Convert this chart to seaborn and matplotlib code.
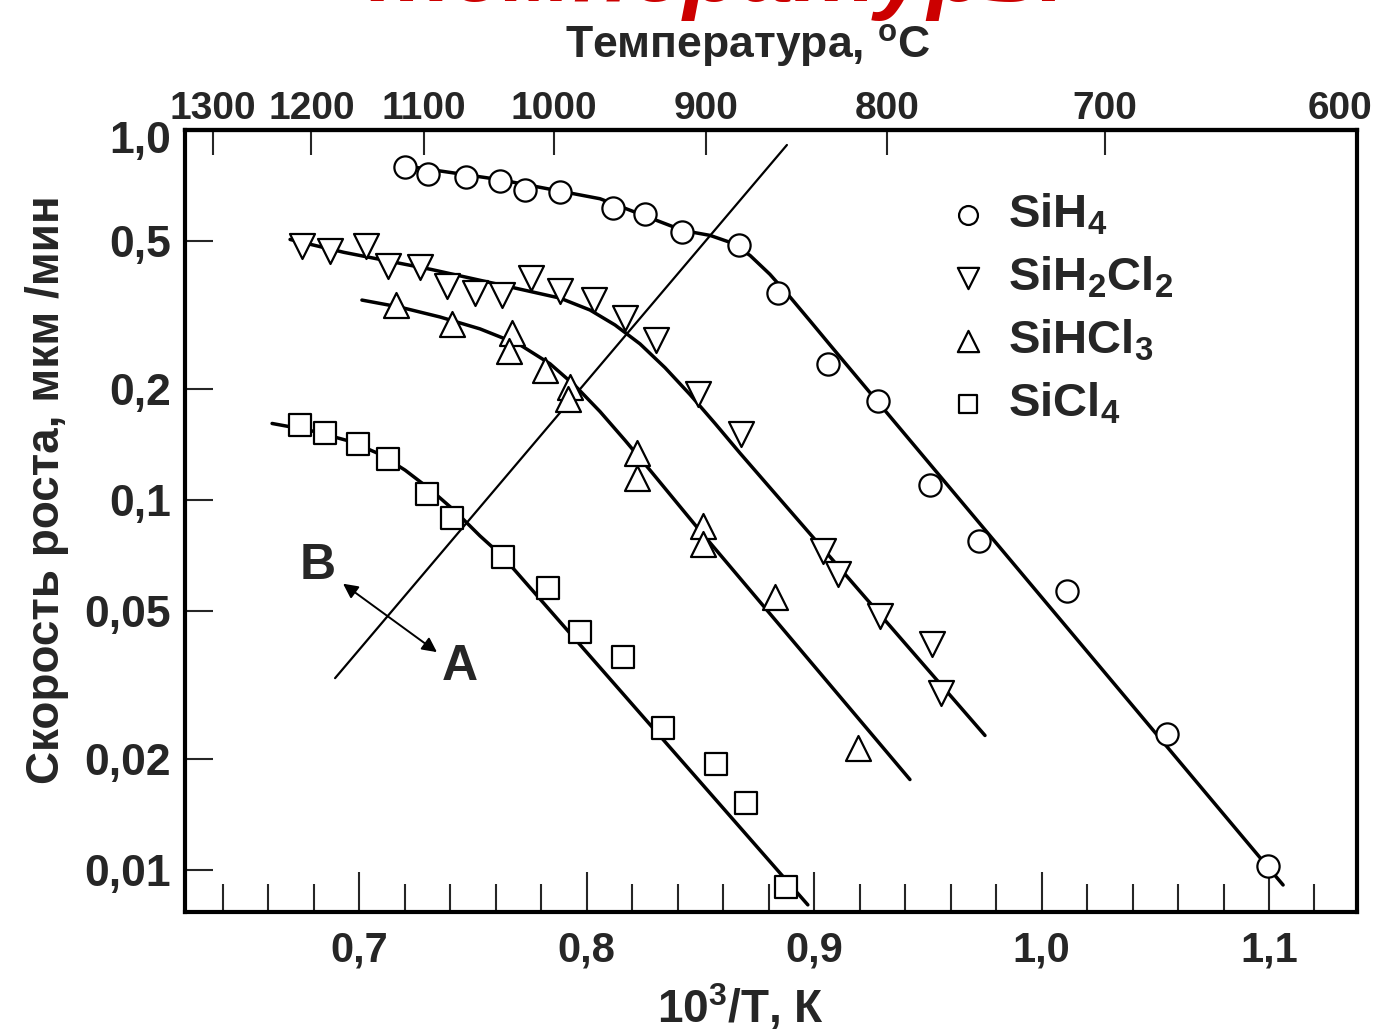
import numpy as np
import pandas as pd
import matplotlib
matplotlib.use("Agg")
import matplotlib.pyplot as plt
import seaborn as sns
from matplotlib.ticker import FixedLocator, FixedFormatter, NullLocator

# ---------------- data (x = 10^3/T, y = growth rate, um/min) ----------------
sih4_x = [0.720, 0.730, 0.747, 0.762, 0.773, 0.788, 0.8115, 0.8256, 0.842, 0.867,
          0.884, 0.906, 0.928, 0.951, 0.9725, 1.011, 1.055, 1.0995]
sih4_y = [0.795, 0.762, 0.748, 0.729, 0.690, 0.678, 0.617, 0.594, 0.529, 0.488,
          0.362, 0.233, 0.185, 0.110, 0.0776, 0.0566, 0.0233, 0.01026]
sih4_fit_x = [0.7201, 0.7618, 0.8058, 0.8423, 0.8542, 0.8630, 0.8718, 0.8805, 0.8894,
              0.8982, 0.9069, 0.9201, 1.0995, 1.1062]
sih4_fit_y = [0.800, 0.734, 0.652, 0.535, 0.519, 0.497, 0.458, 0.4075, 0.3535,
              0.3047, 0.2627, 0.2102, 0.01019, 0.00911]

sih2cl2_x = [0.6748, 0.6871, 0.7029, 0.7126, 0.7266, 0.7385, 0.7508, 0.7627, 0.7755, 0.7882,
             0.8032, 0.8168, 0.8304, 0.8489, 0.8678, 0.9038, 0.9104, 0.9289, 0.9518, 0.9557]
sih2cl2_y = [0.487, 0.470, 0.487, 0.428, 0.426, 0.378, 0.362, 0.358, 0.397, 0.367,
             0.347, 0.310, 0.271, 0.193, 0.151, 0.0729, 0.0632, 0.0485, 0.0407, 0.0301]
sih2cl2_fit_x = [0.6695, 0.6932, 0.7315, 0.7684, 0.7882, 0.8014, 0.8124, 0.8234, 0.8344,
                 0.8454, 0.8564, 0.8674, 0.9751]
sih2cl2_fit_y = [0.506, 0.467, 0.420, 0.374, 0.3513, 0.3262, 0.2972, 0.2642, 0.2278,
                 0.1927, 0.1610, 0.1338, 0.0231]

sihcl3_x = [0.7161, 0.7407, 0.7671, 0.7660, 0.7816, 0.7926, 0.7917, 0.8221, 0.8221,
            0.8511, 0.8511, 0.8827, 0.9192]
sihcl3_y = [0.336, 0.299, 0.283, 0.253, 0.225, 0.202, 0.187, 0.134, 0.1145,
            0.0851, 0.0762, 0.0548, 0.0214]
sihcl3_fit_x = [0.7011, 0.7179, 0.7354, 0.7530, 0.7706, 0.7838, 0.7948, 0.8058, 0.8168,
                0.8278, 0.8498, 0.9421]
sihcl3_fit_y = [0.347, 0.332, 0.3124, 0.2901, 0.2627, 0.2335, 0.2038, 0.1734, 0.1450,
                0.1204, 0.0825, 0.01756]

sicl4_x = [0.6739, 0.6849, 0.6993, 0.7125, 0.7297, 0.7407, 0.7631, 0.7829, 0.7970,
           0.8159, 0.8335, 0.8568, 0.8700, 0.8875]
sicl4_y = [0.159, 0.152, 0.142, 0.129, 0.1037, 0.0895, 0.0703, 0.0580, 0.0441,
           0.0376, 0.0242, 0.0194, 0.0152, 0.0090]
sicl4_fit_x = [0.6616, 0.6783, 0.6959, 0.7091, 0.7201, 0.7310, 0.7420, 0.7530, 0.7631,
               0.8972]
sicl4_fit_y = [0.161, 0.1542, 0.1441, 0.1329, 0.1204, 0.1070, 0.0934, 0.0800, 0.0703,
               0.00805]

# boundary line between regions A and B, arrow and region labels
boundary_x = [0.6893, 0.888]
boundary_y = [0.0330, 0.911]
arrow_b = (0.6928, 0.0594)
arrow_a = (0.7341, 0.0388)
label_b = (0.6818, 0.0665)
label_a = (0.7442, 0.0353)

series_names = ["SiH$_4$", "SiH$_2$Cl$_2$", "SiHCl$_3$", "SiCl$_4$"]

y_ticks = [0.01, 0.02, 0.05, 0.1, 0.2, 0.5, 1.0]
y_tick_labels = ["0,01", "0,02", "0,05", "0,1", "0,2", "0,5", "1,0"]
x_ticks = [0.7, 0.8, 0.9, 1.0, 1.1]
x_tick_labels = ["0,7", "0,8", "0,9", "1,0", "1,1"]
x_minor = [0.64, 0.66, 0.68, 0.72, 0.74, 0.76, 0.78, 0.82, 0.84, 0.86, 0.88,
           0.92, 0.94, 0.96, 0.98, 1.02, 1.04, 1.06, 1.08, 1.12]
top_ticks_c = [1300, 1200, 1100, 1000, 900, 800, 700]
top_tick_labels = ["1300", "1200", "1100", "1000", "900", "800", "700"]

# ---------------- style ----------------
sns.set_theme(style="white")
plt.rcParams["font.family"] = ["Liberation Sans", "DejaVu Sans"]
plt.rcParams["font.weight"] = "bold"
plt.rcParams["mathtext.fontset"] = "custom"
plt.rcParams["mathtext.rm"] = "Liberation Sans:bold"
plt.rcParams["mathtext.it"] = "Liberation Sans:bold"
plt.rcParams["mathtext.bf"] = "Liberation Sans:bold"
plt.rcParams["mathtext.sf"] = "Liberation Sans:bold"
plt.rcParams["mathtext.default"] = "rm"

W, H = 1379, 1034
fig = plt.figure(figsize=(W / 100, H / 100), dpi=100)
fig.patch.set_facecolor("white")
L, R, T, B = 185, 1357, 130, 912
ax = fig.add_axes([L / W, 1 - B / H, (R - L) / W, (B - T) / H])
ax.set_facecolor("white")

markers = ["o", "v", "^", "s"]
msizes = [16, 18, 18, 15.5]
fits = [(sih4_fit_x, sih4_fit_y), (sih2cl2_fit_x, sih2cl2_fit_y),
        (sihcl3_fit_x, sihcl3_fit_y), (sicl4_fit_x, sicl4_fit_y)]
pts = [(sih4_x, sih4_y), (sih2cl2_x, sih2cl2_y), (sihcl3_x, sihcl3_y), (sicl4_x, sicl4_y)]

for (fx, fy) in fits:
    sns.lineplot(x=fx, y=fy, ax=ax, color="black", lw=2.5, sort=False,
                 estimator=None, legend=False, zorder=2)

for (px, py), m, ms, name in zip(pts, markers, msizes, series_names):
    sns.scatterplot(x=px, y=py, ax=ax, marker=m, s=ms ** 2, color="white",
                    edgecolor="black", linewidth=1.6, label=name, zorder=3)

sns.lineplot(x=boundary_x, y=boundary_y, ax=ax, color="black", lw=1.6,
             sort=False, estimator=None, legend=False, zorder=2)
ax.annotate("", xy=arrow_a, xytext=arrow_b,
            arrowprops=dict(arrowstyle="<|-|>", color="black", lw=1.4,
                            mutation_scale=22, shrinkA=0, shrinkB=0))
ax.text(*label_b, "B", fontsize=36, fontweight="bold", ha="center", va="center")
ax.text(*label_a, "A", fontsize=36, fontweight="bold", ha="center", va="center")

ax.set_yscale("log")
ax.set_xlim(0.6233, 1.1387)
ax.set_ylim(0.0077, 1.0)

# the top "1,0" label sits a little below the frame corner, as in the original
y_labels_drawn = [lab if v < 1.0 else "" for v, lab in zip(y_ticks, y_tick_labels)]
ax.yaxis.set_major_locator(FixedLocator(y_ticks))
ax.yaxis.set_major_formatter(FixedFormatter(y_labels_drawn))
ax.yaxis.set_minor_locator(NullLocator())
ax.xaxis.set_major_locator(FixedLocator(x_ticks))
ax.xaxis.set_major_formatter(FixedFormatter(x_tick_labels))
ax.xaxis.set_minor_locator(FixedLocator(x_minor))
ax.annotate(y_tick_labels[-1], xy=(0, y_ticks[-1]), xycoords=("axes fraction", "data"),
            xytext=(-10, -8), textcoords="offset points", ha="right", va="center",
            fontsize=32, fontweight="bold", annotation_clip=False)

for s in ax.spines.values():
    s.set_linewidth(3.0)
    s.set_color("black")

ax.tick_params(axis="x", which="major", direction="in", length=29, width=1.5,
               labelsize=30, pad=13, bottom=True, top=False)
ax.tick_params(axis="x", which="minor", direction="in", length=20, width=1.5,
               bottom=True, top=False)
ax.tick_params(axis="y", which="major", direction="in", length=20, width=1.5,
               labelsize=32, pad=10, left=True, right=False)
for lbl in ax.get_xticklabels() + ax.get_yticklabels():
    lbl.set_fontweight("bold")


def to_c(x):
    x = np.asarray(x, dtype=float)
    with np.errstate(divide="ignore", invalid="ignore"):
        return 1000.0 / x - 273.0


def to_inv(t):
    t = np.asarray(t, dtype=float)
    with np.errstate(divide="ignore", invalid="ignore"):
        return 1000.0 / (t + 273.0)


sec = ax.secondary_xaxis("top", functions=(to_c, to_inv))
sec.xaxis.set_major_locator(FixedLocator(top_ticks_c))
sec.xaxis.set_major_formatter(FixedFormatter(top_tick_labels))
sec.xaxis.set_minor_locator(NullLocator())
sec.tick_params(axis="x", direction="in", length=18, width=1.5, labelsize=28, pad=2)
for lbl in sec.get_xticklabels():
    lbl.set_fontweight("bold")
sec.spines["top"].set_linewidth(3.0)
sec.set_xlabel("Температура, $^{o}$C", fontsize=32, fontweight="bold", labelpad=24)
sec.xaxis.label.set_x((748 - L) / (R - L))
ax.text((1340 - L) / (R - L), 1.0 + 3 / (B - T), "600", transform=ax.transAxes,
        fontsize=28, fontweight="bold", ha="center", va="bottom")

ax.set_xlabel("10$^{3}$/T, К", fontsize=33, fontweight="bold")
ax.xaxis.set_label_coords((740 - L) / (R - L), (B - 1023) / (B - T))
ax.xaxis.label.set_va("baseline")
ax.set_ylabel("Скорость роста, мкм /мин", fontsize=33, fontweight="bold")
ax.yaxis.set_label_coords((69 - L) / (R - L), (B - 490) / (B - T))

leg = ax.legend(loc="upper left", bbox_to_anchor=((948 - L) / (R - L), (B - 192) / (B - T)),
                frameon=False, fontsize=34, handlelength=0.85, handletextpad=0.42,
                labelspacing=0.37, borderpad=0, borderaxespad=0, markerscale=0.85)
for t in leg.get_texts():
    t.set_fontweight("bold")

# slide title: only its lower edge shows at the very top of the picture
fig.text(718 / W, 1 - 1 / H, "температуры", color="#cc0000", fontsize=68,
         fontweight="bold", fontstyle="italic", ha="center", va="baseline")

fig.savefig("out.png", dpi=100, facecolor="white")
